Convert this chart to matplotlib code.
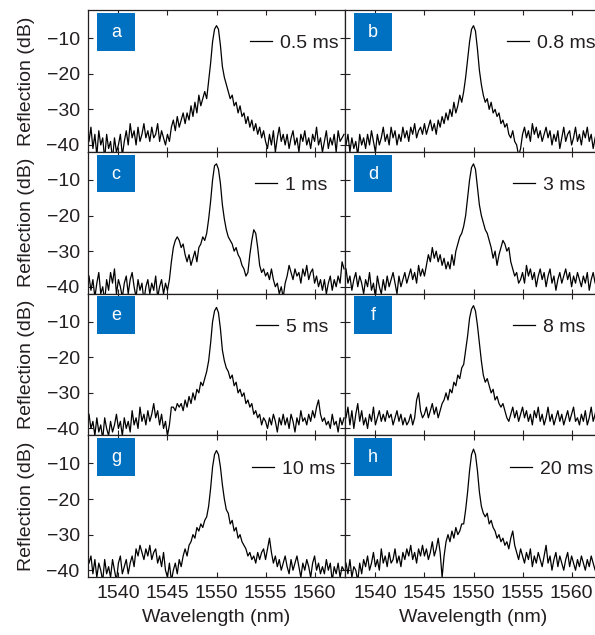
import numpy as np
import matplotlib
matplotlib.use("Agg")
import matplotlib.pyplot as plt
from matplotlib.patches import Rectangle

plt.rcParams['font.family'] = ['Liberation Sans', 'DejaVu Sans']

# wavelength grid, 0.2 nm steps (1537 ... 1563 nm); each row below = 2 nm
wl = np.linspace(1537, 1563, 131)

# reflection spectra (dB), one list per panel
refl_a = [-39, -35, -41, -37, -43, -36, -40, -38, -44, -37,
          -41, -39, -44, -38, -42, -40, -37, -43, -39, -36,
          -40, -34, -38, -36, -40, -35, -39, -37, -34, -38,
          -36, -39, -35, -38, -37, -34, -39, -36, -38, -40,
          -37, -39, -35, -33, -36, -32, -35, -33, -31, -34,
          -31, -33, -29, -32, -28, -31, -26, -29, -27, -25,
          -27, -22, -17, -11, -7.5, -6.5, -7.5, -12, -18, -21,
          -23, -25, -27, -26, -29, -28, -31, -29, -32, -31,
          -34, -32, -35, -33, -36, -34, -37, -35, -38, -36,
          -39, -41, -37, -40, -36, -42, -38, -35, -39, -37,
          -40, -37, -41, -38, -36, -40, -38, -42, -37, -39,
          -36, -40, -38, -41, -37, -39, -35, -40, -38, -42,
          -39, -36, -41, -38, -40, -37, -42, -36, -39, -38,
          -37]
refl_b = [-40, -37, -42, -38, -41, -39, -43, -37, -40, -38,
          -41, -37, -40, -36, -39, -42, -37, -40, -38, -35,
          -39, -37, -40, -35, -38, -36, -40, -37, -39, -35,
          -38, -36, -39, -35, -37, -34, -38, -36, -35, -37,
          -34, -37, -35, -33, -36, -34, -37, -33, -35, -32,
          -34, -31, -33, -30, -32, -28, -31, -29, -26, -28,
          -25, -21, -16, -11, -7.5, -6.5, -8, -13, -19, -23,
          -26, -28, -27, -30, -28, -31, -30, -32, -31, -34,
          -33, -35, -34, -37, -38, -36, -39, -40, -43, -41,
          -37, -35, -38, -36, -39, -34, -37, -35, -38, -36,
          -39, -37, -35, -38, -36, -40, -37, -39, -36, -41,
          -38, -35, -39, -37, -36, -40, -38, -35, -39, -37,
          -40, -36, -38, -35, -39, -37, -41, -38, -36, -39,
          -38]
refl_c = [-37, -41, -38, -43, -39, -36, -42, -40, -44, -38,
          -41, -36, -39, -35, -42, -38, -40, -43, -39, -37,
          -42, -38, -36, -40, -43, -38, -41, -39, -44, -40,
          -38, -42, -39, -41, -37, -43, -40, -38, -42, -39,
          -41, -38, -33, -29, -27, -26, -27, -29, -28, -31,
          -33, -31, -34, -32, -30, -33, -29, -28, -26, -27,
          -25, -21, -16, -10, -6, -5.5, -7, -11, -17, -21,
          -24, -26, -27, -28, -30, -29, -31, -32, -34, -35,
          -37, -36, -31, -27, -24, -25, -29, -34, -36, -35,
          -37, -36, -38, -35, -38, -40, -39, -42, -40, -43,
          -39, -37, -34, -36, -38, -35, -37, -36, -39, -35,
          -37, -34, -38, -36, -35, -39, -37, -40, -38, -41,
          -38, -42, -39, -37, -41, -38, -40, -37, -39, -33,
          -35]
refl_d = [-35, -39, -37, -41, -38, -36, -40, -37, -39, -42,
          -38, -40, -36, -41, -39, -43, -37, -40, -42, -38,
          -41, -37, -40, -38, -36, -39, -42, -37, -40, -38,
          -36, -39, -37, -35, -38, -36, -39, -34, -37, -35,
          -37, -34, -31, -33, -29, -32, -30, -33, -31, -34,
          -32, -35, -33, -35, -31, -34, -30, -28, -26, -25,
          -23, -20, -15, -10, -6.5, -5.5, -7, -12, -17, -20,
          -22, -24, -25, -27, -29, -32, -30, -34, -31, -29,
          -27, -28, -30, -29, -33, -35, -37, -36, -39, -38,
          -36, -39, -34, -37, -35, -38, -36, -40, -37, -35,
          -38, -36, -40, -37, -35, -39, -37, -41, -38, -36,
          -39, -37, -35, -38, -36, -40, -37, -39, -36, -38,
          -40, -37, -39, -36, -41, -38, -36, -39, -37, -40,
          -38]
refl_e = [-36, -40, -38, -42, -37, -41, -39, -43, -37, -40,
          -42, -38, -41, -39, -36, -40, -38, -42, -37, -40,
          -38, -41, -35, -39, -37, -40, -34, -38, -36, -39,
          -35, -38, -36, -33, -37, -35, -39, -36, -40, -38,
          -42, -39, -34, -34, -35, -33, -34, -33, -35, -32,
          -34, -31, -33, -30, -32, -29, -30, -27, -28, -26,
          -24, -21, -16, -10, -7, -6, -7.5, -12, -18, -21,
          -23, -24, -26, -25, -28, -27, -30, -29, -31, -30,
          -33, -32, -34, -33, -36, -35, -37, -36, -39, -37,
          -38, -40, -37, -39, -36, -38, -41, -37, -39, -36,
          -39, -37, -40, -36, -38, -41, -37, -39, -35, -38,
          -37, -39, -36, -38, -35, -37, -34, -32, -36, -38,
          -37, -39, -38, -40, -36, -39, -38, -41, -37, -39,
          -37]
refl_f = [-37, -34, -39, -35, -40, -36, -33, -38, -35, -39,
          -37, -40, -36, -38, -34, -39, -37, -35, -38, -36,
          -38, -35, -37, -36, -39, -37, -35, -38, -36, -39,
          -37, -39, -38, -36, -39, -37, -32, -30, -35, -37,
          -36, -34, -37, -35, -33, -36, -34, -37, -35, -33,
          -32, -30, -32, -29, -30, -27, -28, -25, -26, -23,
          -22, -18, -14, -9, -6.5, -5.5, -7, -11, -16, -21,
          -25, -27, -26, -28, -30, -29, -32, -31, -33, -34,
          -33, -35, -37, -38, -36, -34, -37, -35, -38, -36,
          -34, -37, -35, -38, -36, -39, -35, -37, -34, -38,
          -36, -39, -37, -34, -38, -36, -39, -37, -35, -38,
          -36, -39, -37, -35, -38, -36, -34, -38, -37, -39,
          -36, -38, -35, -39, -37, -34, -38, -36, -33, -37,
          -36]
refl_g = [-38, -36, -41, -37, -42, -38, -40, -43, -37, -41,
          -39, -42, -37, -40, -43, -38, -36, -41, -39, -37,
          -41, -38, -36, -39, -34, -36, -33, -35, -37, -34,
          -36, -33, -37, -35, -34, -38, -36, -39, -35, -40,
          -42, -38, -43, -40, -38, -41, -37, -39, -36, -34,
          -36, -33, -32, -30, -31, -28, -29, -27, -28, -26,
          -25, -22, -17, -11, -7.5, -6.4, -7.5, -11, -16, -20,
          -23, -24, -27, -26, -29, -28, -31, -30, -32, -33,
          -34, -36, -35, -37, -36, -38, -35, -37, -35, -34,
          -37, -34, -31, -35, -38, -36, -39, -37, -40, -38,
          -36, -39, -41, -37, -40, -38, -36, -39, -42, -38,
          -40, -37, -39, -42, -38, -36, -40, -38, -41, -39,
          -41, -37, -40, -38, -43, -39, -41, -38, -42, -39,
          -40]
refl_h = [-38, -41, -37, -42, -39, -40, -43, -38, -41, -37,
          -39, -36, -40, -38, -35, -39, -37, -40, -34, -38,
          -36, -39, -35, -38, -37, -34, -38, -36, -39, -35,
          -37, -34, -36, -33, -37, -35, -38, -34, -36, -33,
          -36, -34, -37, -35, -32, -36, -34, -31, -35, -42,
          -36, -32, -30, -32, -29, -31, -28, -30, -29, -27,
          -27, -23, -18, -12, -7.5, -6, -7.5, -12, -18, -22,
          -24, -25, -24, -27, -26, -28, -29, -31, -30, -32,
          -31, -33, -32, -34, -31, -29, -33, -35, -37, -34,
          -36, -38, -35, -37, -34, -39, -36, -38, -35, -37,
          -39, -36, -33, -38, -36, -40, -37, -35, -39, -36,
          -38, -40, -37, -35, -39, -36, -38, -40, -37, -39,
          -36, -38, -40, -37, -39, -36, -38, -40, -37, -39,
          -37]

spectra = [refl_a, refl_b, refl_c, refl_d, refl_e, refl_f, refl_g, refl_h]
letters = ['a', 'b', 'c', 'd', 'e', 'f', 'g', 'h']
times = ['0.5 ms', '0.8 ms', '1 ms', '3 ms', '5 ms', '8 ms', '10 ms', '20 ms']
xticks = [1540, 1545, 1550, 1555, 1560]
yticks = [-40, -30, -20, -10]

# legend anchor (axes fraction) for each panel
leg_x = [0.630, 0.629, 0.650, 0.654, 0.654, 0.654, 0.638, 0.642]

ink = '#231f20'
blue = '#0070c0'
fs = 14

fig = plt.figure(figsize=(5.95, 6.35), dpi=100)
left = [88 / 595, 345 / 595]
w = 257 / 595
h = 141.75 / 635
bottom0 = 58 / 635

for k in range(8):
    row, col = k // 2, k % 2
    ax = fig.add_axes([left[col], bottom0 + (3 - row) * h, w, h])
    ax.plot(wl, spectra[k], color='black', lw=0.9, label=times[k])
    ax.set_xlim(1536.9, 1563.1)
    ax.set_ylim(-41.9, -2.1)
    ax.set_xticks(xticks)
    ax.set_yticks(yticks)
    ax.tick_params(direction='in', length=3.5, width=0.8, top=True, right=True,
                   colors=ink, labelsize=fs, pad=6)
    for s in ax.spines.values():
        s.set_color(ink)
        s.set_linewidth(0.9)
    if col == 0:
        ax.set_ylabel('Reflection (dB)', fontsize=fs, color=ink)
        ax.yaxis.set_label_coords(-0.205, 0.5)
    else:
        ax.tick_params(labelleft=False)
    if row == 3:
        ax.set_xlabel('Wavelength (nm)', fontsize=fs, color=ink)
        ax.xaxis.set_label_coords(0.5, -0.225)
    else:
        ax.tick_params(labelbottom=False)

    ax.add_patch(Rectangle((0.035, 0.714), 0.148, 0.265, transform=ax.transAxes,
                           facecolor=blue, edgecolor='none', zorder=3))
    ax.text(0.109, 0.843, letters[k], transform=ax.transAxes, color='white',
            fontsize=13, ha='center', va='center', zorder=4)
    ax.legend(loc='center left', bbox_to_anchor=(leg_x[k], 0.764), frameon=False,
              fontsize=fs, handlelength=1.15, handletextpad=0.4,
              borderpad=0, borderaxespad=0, labelcolor=ink)

fig.savefig('out.png', dpi=100)
